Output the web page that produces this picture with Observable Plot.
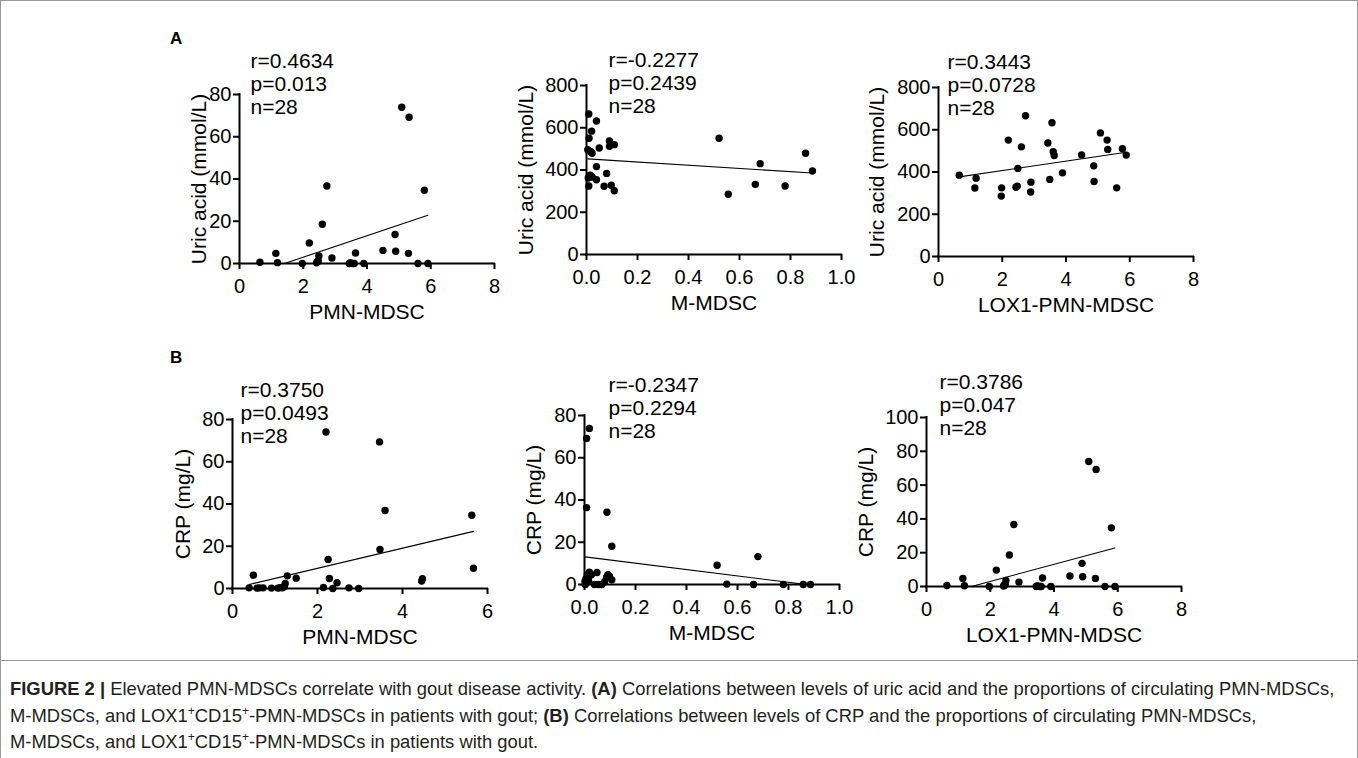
<!DOCTYPE html>
<html><head><meta charset="utf-8">
<script src="https://cdn.jsdelivr.net/npm/d3@7"></script>
<script src="https://cdn.jsdelivr.net/npm/@observablehq/plot@0.6"></script>
<style>
body{margin:0;background:#fff;font-family:"Liberation Sans",Arial,sans-serif;}
#fig{position:relative;width:1358px;height:758px;overflow:hidden;background:#fff;}
.panel{position:absolute;}
.letter{position:absolute;font-weight:bold;font-size:17px;color:#000;line-height:1;}
#caption{position:absolute;left:10px;top:676px;font-size:18.4px;line-height:26.5px;color:#231f20;white-space:nowrap;}
#caption sup{font-size:12px;vertical-align:7px;line-height:0;}
.bord{position:absolute;background:#9a9a9a;}
</style></head><body>
<div id="fig">
  <div class="bord" style="left:0;top:0;width:1358px;height:1px"></div>
  <div class="bord" style="left:0;top:0;width:1px;height:758px"></div>
  <div class="bord" style="left:1357px;top:0;width:1px;height:758px"></div>
  <div class="bord" style="left:0;top:660px;width:1358px;height:1px"></div>
  <div class="letter" style="left:170px;top:30px">A</div>
  <div class="letter" style="left:170px;top:349px">B</div>
  <div id="caption"><b>FIGURE 2 |</b> Elevated PMN-MDSCs correlate with gout disease activity. <b>(A)</b> Correlations between levels of uric acid and the proportions of circulating PMN-MDSCs,<br>M-MDSCs, and LOX1<sup>+</sup>CD15<sup>+</sup>-PMN-MDSCs in patients with gout; <b>(B)</b> Correlations between levels of CRP and the proportions of circulating PMN-MDSCs,<br>M-MDSCs, and LOX1<sup>+</sup>CD15<sup>+</sup>-PMN-MDSCs in patients with gout.</div>
</div>
<script>
// ---- Data ----
// Panel A1 (Uric acid vs PMN-MDSC) and B3 (CRP vs LOX1-PMN-MDSC) show the same points
const setLoxX = [0.64,1.14,1.19,1.97,2.19,2.42,2.44,2.49,2.60,2.74,2.90,3.44,3.47,3.50,3.56,3.60,3.64,3.90,4.50,4.88,4.90,5.09,5.32,5.30,5.60,5.80,5.91,2.47];
const setLoxY = [0.6,4.8,0.4,0,9.7,0.3,0.8,3.6,18.6,36.7,2.6,0,0.3,0.2,0,0,5.0,0,6.2,13.7,5.8,74.0,69.2,4.8,0,34.7,0,1.2];

// Panel A2: Uric acid vs M-MDSC
const a2X = [0.009,0.039,0.020,0.010,0.005,0.022,0.016,0.050,0.090,0.090,0.109,0.039,0.079,0.007,0.022,0.039,0.009,0.069,0.097,0.109,0.520,0.556,0.662,0.681,0.779,0.859,0.886,0.014];
const a2Y = [665,632,584,550,496,479,488,504,537,512,520,416,384,362,367,354,324,323,328,302,550,285,332,430,324,479,395,375];

// Panel A3: Uric acid vs LOX1-PMN-MDSC
const a3X = [0.65,1.18,1.14,1.98,1.97,2.19,2.43,2.47,2.49,2.60,2.73,2.90,2.89,3.43,3.49,3.56,3.60,3.63,3.89,4.49,4.87,4.88,5.08,5.29,5.31,5.59,5.77,5.89];
const a3Y = [385,371,324,325,286,551,328,333,417,519,666,352,305,537,365,633,496,478,396,481,429,355,585,551,507,325,510,480];

// Panel B1: CRP vs PMN-MDSC
const b1X = [0.39,0.49,0.63,0.72,0.92,1.07,1.18,1.24,1.29,1.50,2.14,2.20,2.25,2.28,2.36,2.46,2.74,2.97,3.46,3.47,3.59,4.45,4.47,5.63,5.67,0.58,1.12,1.22];
const b1Y = [0.3,6.3,0.3,0.3,0.2,0.2,0.3,2.4,6.0,4.9,0.5,74.1,13.7,4.7,0,2.7,0.3,0,69.4,18.5,36.9,3.5,4.6,34.7,9.6,0.2,0.4,1.0];

// Panel B2: CRP vs M-MDSC
const b2X = [0.008,0.019,0.008,0.088,0.107,0.52,0.68,0.558,0.663,0.78,0.858,0.886,0.003,0.006,0.011,0.019,0.027,0.039,0.049,0.068,0.079,0.087,0.092,0.098,0.107,0.002,0.016,0.055];
const b2Y = [69.1,73.9,36.4,34.2,18.1,9.1,13.2,0.2,0,0,0,0,0,2.8,4.6,5.8,4.6,0,5.7,0,1.3,3.5,4.6,3.9,2.2,1.4,1.9,0];

// Fit lines (slope, intercept)
const fitSlope = [5.07, -76, 22.2, 4.76, -15.06, 5.07];
const fitIntercept = [-7.15, 453, 362.5, 0.04, 13.1, -7.15];

// Statistics text
const statR = ["0.4634","-0.2277","0.3443","0.3750","-0.2347","0.3786"];
const statP = ["0.013","0.2439","0.0728","0.0493","0.2294","0.047"];
const statN = ["28","28","28","28","28","28"];

// Axis labels and ticks
const xLabels = ["PMN-MDSC","M-MDSC","LOX1-PMN-MDSC","PMN-MDSC","M-MDSC","LOX1-PMN-MDSC"];
const yLabels = ["Uric acid (mmol/L)","Uric acid (mmol/L)","Uric acid (mmol/L)","CRP (mg/L)","CRP (mg/L)","CRP (mg/L)"];
const xTicks = [[0,2,4,6,8],[0,0.2,0.4,0.6,0.8,1.0],[0,2,4,6,8],[0,2,4,6],[0,0.2,0.4,0.6,0.8,1.0],[0,2,4,6,8]];
const yTicks = [[0,20,40,60,80],[0,200,400,600,800],[0,200,400,600,800],[0,20,40,60,80],[0,20,40,60,80],[0,20,40,60,80,100]];

// ---- Layout ----
const xsets = [setLoxX,a2X,a3X,b1X,b2X,setLoxX];
const ysets = [setLoxY,a2Y,a3Y,b1Y,b2Y,setLoxY];
const origin = [[239,94],[586,85],[938,87],[232,419],[584,415],[926,417]];
const yLabDx = [-40,-60,-61,-49,-50,-60];
const statDx = [11,22,9,8,24,13];
const statDy = [-43,-35,-35,-39,-40,-45];

const W = 255, H = 169, ML = 100, MR = 25, MT = 70, MB = 75;
const fig = document.getElementById("fig");

for (let i = 0; i < 6; i++) {
  const xs = xsets[i], ys = ysets[i];
  const data = xs.map((x, j) => ({x, y: ys[j]}));
  const xt = xTicks[i], yt = yTicks[i];
  const xDom = [xt[0], xt[xt.length-1]], yDom = [yt[0], yt[yt.length-1]];
  const ext = d3.extent(xs);
  const fit = ext.map(x => ({x, y: fitSlope[i]*x + fitIntercept[i]}));
  const isFrac = xDom[1] === 1;
  const stats = `r=${statR[i]}\np=${statP[i]}\nn=${statN[i]}`;
  const chart = Plot.plot({
    width: ML+W+MR, height: MT+H+MB,
    marginLeft: ML, marginRight: MR, marginTop: MT, marginBottom: MB,
    style: {background: "transparent", fontFamily: "'Liberation Sans', Arial, sans-serif", color: "#000", overflow: "visible"},
    x: {domain: xDom}, y: {domain: yDom},
    marks: [
      Plot.line(fit, {x: "x", y: "y", stroke: "#000", strokeWidth: 1.1, clip: true}),
      Plot.ruleY([yDom[0]], {stroke: "#000", strokeWidth: 2, strokeLinecap: "square"}),
      Plot.ruleX([xDom[0]], {stroke: "#000", strokeWidth: 2, strokeLinecap: "square"}),
      Plot.dot(data, {x: "x", y: "y", r: 3.7, fill: "#000", stroke: "none"}),
      Plot.axisX({ticks: xt, tickSize: 6, tickPadding: 9, fontSize: 20, strokeWidth: 2, label: null,
                  tickFormat: isFrac ? d3.format(".1f") : d3.format("d")}),
      Plot.axisY({ticks: yt, tickSize: 6, tickPadding: 2, fontSize: 20, strokeWidth: 2, label: null, tickFormat: d3.format("d")}),
      Plot.text([xLabels[i]], {frameAnchor: "bottom", dy: 49, fontSize: 21, lineAnchor: "middle", textAnchor: "middle", fill: "#000"}),
      Plot.text([yLabels[i]], {frameAnchor: "left", rotate: -90, dx: yLabDx[i], fontSize: 21, lineAnchor: "middle", textAnchor: "middle", fill: "#000"}),
      Plot.text([stats], {frameAnchor: "top-left", dx: statDx[i], dy: statDy[i], fontSize: 21, lineHeight: 1.1, lineAnchor: "top", textAnchor: "start", fill: "#000"})
    ]
  });
  chart.classList.add("panel");
  chart.style.left = (origin[i][0] - ML) + "px";
  chart.style.top = (origin[i][1] - MT) + "px";
  fig.appendChild(chart);
}
</script>
</body></html>
